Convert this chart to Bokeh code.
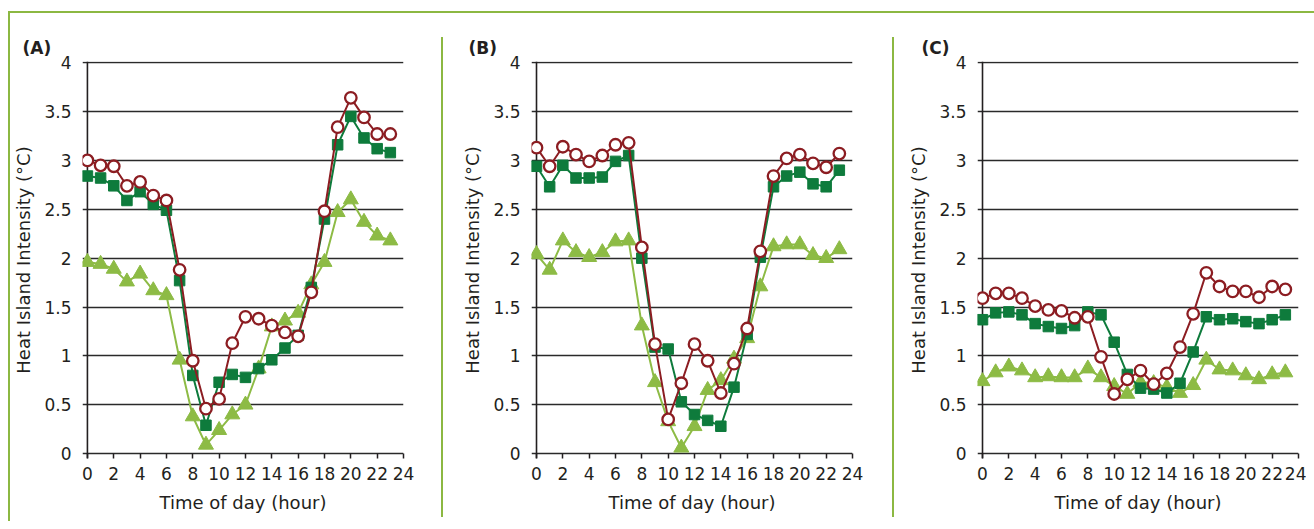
from bokeh.plotting import figure
from bokeh.layouts import row, column
from bokeh.models import FixedTicker, Span, Title, Div
from bokeh.embed import file_html
from bokeh.resources import INLINE

# ---------------- data ----------------
hours = list(range(24))

a_red = [3.00, 2.95, 2.94, 2.74, 2.78, 2.64, 2.59, 1.88, 0.95, 0.46, 0.56, 1.13,
         1.40, 1.38, 1.31, 1.24, 1.20, 1.65, 2.48, 3.34, 3.64, 3.44, 3.27, 3.27]
a_dark = [2.84, 2.82, 2.74, 2.59, 2.68, 2.55, 2.49, 1.77, 0.80, 0.29, 0.73, 0.81,
          0.78, 0.87, 0.96, 1.08, 1.21, 1.70, 2.40, 3.16, 3.45, 3.23, 3.12, 3.08]
a_light = [1.96, 1.94, 1.89, 1.76, 1.84, 1.67, 1.62, 0.96, 0.38, 0.09, 0.24, 0.40,
           0.50, 0.87, 1.30, 1.36, 1.44, 1.73, 1.96, 2.47, 2.60, 2.37, 2.23, 2.18]

b_red = [3.13, 2.94, 3.14, 3.06, 2.99, 3.05, 3.16, 3.18, 2.11, 1.12, 0.35, 0.72,
         1.12, 0.95, 0.62, 0.92, 1.28, 2.07, 2.84, 3.02, 3.06, 2.97, 2.93, 3.07]
b_dark = [2.94, 2.73, 2.95, 2.82, 2.82, 2.83, 2.99, 3.05, 2.00, 1.09, 1.07, 0.53,
          0.40, 0.34, 0.28, 0.68, 1.22, 2.01, 2.73, 2.84, 2.88, 2.76, 2.73, 2.90]
b_light = [2.04, 1.88, 2.18, 2.06, 2.01, 2.06, 2.17, 2.18, 1.31, 0.73, 0.33, 0.06,
           0.28, 0.65, 0.75, 0.97, 1.18, 1.71, 2.12, 2.14, 2.14, 2.03, 2.00, 2.09]

c_red = [1.59, 1.64, 1.64, 1.59, 1.51, 1.47, 1.46, 1.39, 1.40, 0.99, 0.61, 0.76,
         0.85, 0.71, 0.82, 1.09, 1.43, 1.85, 1.71, 1.66, 1.66, 1.60, 1.71, 1.68]
c_dark = [1.37, 1.44, 1.45, 1.42, 1.33, 1.30, 1.28, 1.31, 1.45, 1.42, 1.14, 0.81,
          0.67, 0.66, 0.62, 0.72, 1.04, 1.40, 1.37, 1.38, 1.35, 1.33, 1.37, 1.42]
c_light = [0.74, 0.83, 0.89, 0.85, 0.78, 0.79, 0.78, 0.78, 0.87, 0.78, 0.69, 0.61,
           0.73, 0.72, 0.68, 0.62, 0.70, 0.96, 0.86, 0.85, 0.80, 0.76, 0.81, 0.83]

panel_labels = ["(A)", "(B)", "(C)"]
x_ticks = [0, 2, 4, 6, 8, 10, 12, 14, 16, 18, 20, 22, 24]
y_ticks = [0, 0.5, 1, 1.5, 2, 2.5, 3, 3.5, 4]
y_tick_labels = ["0", "0.5", "1", "1.5", "2", "2.5", "3", "3.5", "4"]
x_title = "Time of day (hour)"
y_title = "Heat Island Intensity (\u00b0C)"

# ---------------- style ----------------
RED = "#8c1d22"
DARK = "#0e7b3c"
LIGHT = "#8dbb45"
FRAME_GREEN = "#8cb842"
INK = "#231f20"
GRID = "#2a2a2a"
FONT = "DejaVu Sans"

ROW_H = 508


def bar(width, height, margin=(0, 0, 0, 0)):
    return Div(text="", width=width, height=height, margin=margin,
               styles={"background-color": FRAME_GREEN, "overflow": "hidden"})


def panel(label, red, dark, light, left, frame_w, right, x0, label_off):
    p = figure(width=left + frame_w + right, height=ROW_H,
               x_range=(x0, 24), y_range=(-0.05, 4.012),
               min_border_left=left, min_border_right=right,
               min_border_top=48, min_border_bottom=63,
               toolbar_location=None, output_backend="svg", tools="",
               frame_align=False)
    p.outline_line_color = None
    p.background_fill_color = "white"
    p.border_fill_color = "white"

    t = Title(text=label, align="left", offset=label_off, text_font=FONT,
              text_font_size="17px", text_font_style="bold", text_color=INK,
              standoff=8)
    p.add_layout(t, "above")

    # axes
    xa = p.xaxis[0]
    xa.ticker = FixedTicker(ticks=x_ticks)
    xa.axis_line_color = None
    xa.major_tick_in = 5
    xa.major_tick_out = 0
    xa.major_tick_line_color = INK
    xa.major_tick_line_width = 1.5
    xa.minor_tick_line_color = None
    xa.major_label_standoff = 8
    xa.major_label_text_font = FONT
    xa.major_label_text_font_size = "17px"
    xa.major_label_text_color = INK
    xa.axis_label = x_title
    xa.axis_label_text_font = FONT
    xa.axis_label_text_font_size = "18px"
    xa.axis_label_text_font_style = "normal"
    xa.axis_label_text_color = INK
    xa.axis_label_standoff = 9

    ya = p.yaxis[0]
    ya.ticker = FixedTicker(ticks=y_ticks)
    ya.major_label_overrides = dict(zip(y_ticks, y_tick_labels))
    ya.axis_line_color = None
    ya.major_tick_line_color = None
    ya.minor_tick_line_color = None
    ya.major_label_standoff = 5
    ya.major_label_text_font = FONT
    ya.major_label_text_font_size = "17px"
    ya.major_label_text_color = INK
    ya.axis_label = y_title
    ya.axis_label_text_font = FONT
    ya.axis_label_text_font_size = "18px"
    ya.axis_label_text_font_style = "normal"
    ya.axis_label_text_color = INK
    ya.axis_label_standoff = 7

    p.xgrid.grid_line_color = None
    p.ygrid.grid_line_color = GRID
    p.ygrid.grid_line_width = 1.6

    vline = Span(location=0, dimension="height", line_color=INK, line_width=1.6,
                 level="underlay")
    p.add_layout(vline)

    # series
    p.line(hours, light, line_color=LIGHT, line_width=2)
    p.scatter(hours, light, marker="triangle", size=15, fill_color=LIGHT,
              line_color=LIGHT, line_width=1)
    p.line(hours, dark, line_color=DARK, line_width=2)
    p.scatter(hours, dark, marker="square", size=10.5, fill_color=DARK,
              line_color=DARK, line_width=1)
    p.line(hours, red, line_color=RED, line_width=2)
    p.scatter(hours, red, marker="circle", size=11.5, fill_color="white",
              line_color=RED, line_width=2.3)
    return p


top_line = Div(text="", width=1306, height=2, margin=(11, 0, 0, 8),
               styles={"background-color": FRAME_GREEN, "overflow": "hidden"})
left_line = bar(2, ROW_H)
sep1 = bar(2, 480, margin=(24, 0, 4, 0))
sep2 = bar(2, 480, margin=(24, 0, 4, 0))

pa = panel(panel_labels[0], a_red, a_dark, a_light, 67, 326, 38, -0.374, -60)
pb = panel(panel_labels[1], b_red, b_dark, b_light, 88, 321, 40, -0.38, -63)
pc = panel(panel_labels[2], c_red, c_dark, c_light, 83, 321, 8, -0.38, -56)

layout = column(top_line,
                row(left_line, pa, sep1, pb, sep2, pc, spacing=0, margin=(0, 0, 0, 8)),
                spacing=0)

open("out.html", "w").write(file_html(layout, INLINE))
